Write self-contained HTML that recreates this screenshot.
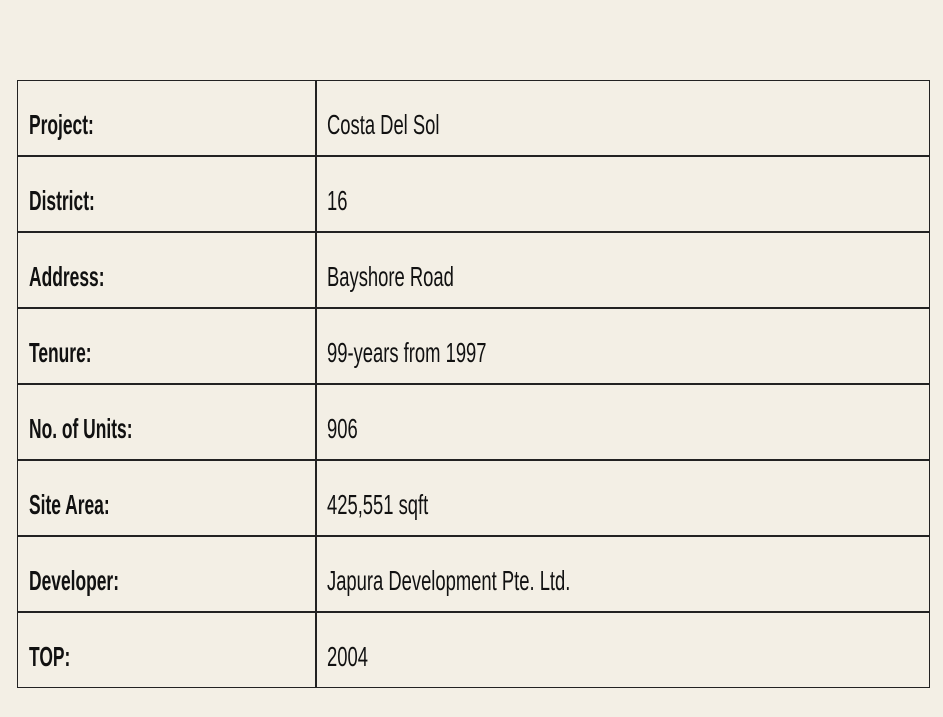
<!DOCTYPE html>
<html><head><style>
body{margin:0;width:943px;height:717px;background:#f3efe5;position:relative;overflow:hidden;font-family:"Liberation Sans",sans-serif;color:#111;}
.t{position:absolute;left:17px;top:80px;width:913px;height:608px;border:1.5px solid #222;box-sizing:border-box;}
.h{position:absolute;left:17px;width:913px;height:2px;background:#222;}
.v{position:absolute;left:315px;top:80px;width:2px;height:608px;background:#222;}
.l{position:absolute;font-size:28px;line-height:28px;transform-origin:left center;white-space:nowrap;}
.b{font-weight:bold;left:29px;transform:scaleX(0.622);}
.r{left:327px;transform:scaleX(0.657);}
</style></head><body>
<div class="t"></div>
<div class="h" style="top:155px"></div>
<div class="h" style="top:231px"></div>
<div class="h" style="top:307px"></div>
<div class="h" style="top:383px"></div>
<div class="h" style="top:459px"></div>
<div class="h" style="top:535px"></div>
<div class="h" style="top:611px"></div>
<div class="v"></div>
<div class="l b" style="top:111px">Project:</div><div class="l r" style="top:111px">Costa Del Sol</div>
<div class="l b" style="top:187px">District:</div><div class="l r" style="top:187px">16</div>
<div class="l b" style="top:263px">Address:</div><div class="l r" style="top:263px">Bayshore Road</div>
<div class="l b" style="top:339px">Tenure:</div><div class="l r" style="top:339px">99-years from 1997</div>
<div class="l b" style="top:415px">No. of Units:</div><div class="l r" style="top:415px">906</div>
<div class="l b" style="top:491px">Site Area:</div><div class="l r" style="top:491px">425,551 sqft</div>
<div class="l b" style="top:567px">Developer:</div><div class="l r" style="top:567px">Japura Development Pte. Ltd.</div>
<div class="l b" style="top:643px">TOP:</div><div class="l r" style="top:643px">2004</div>
</body></html>
